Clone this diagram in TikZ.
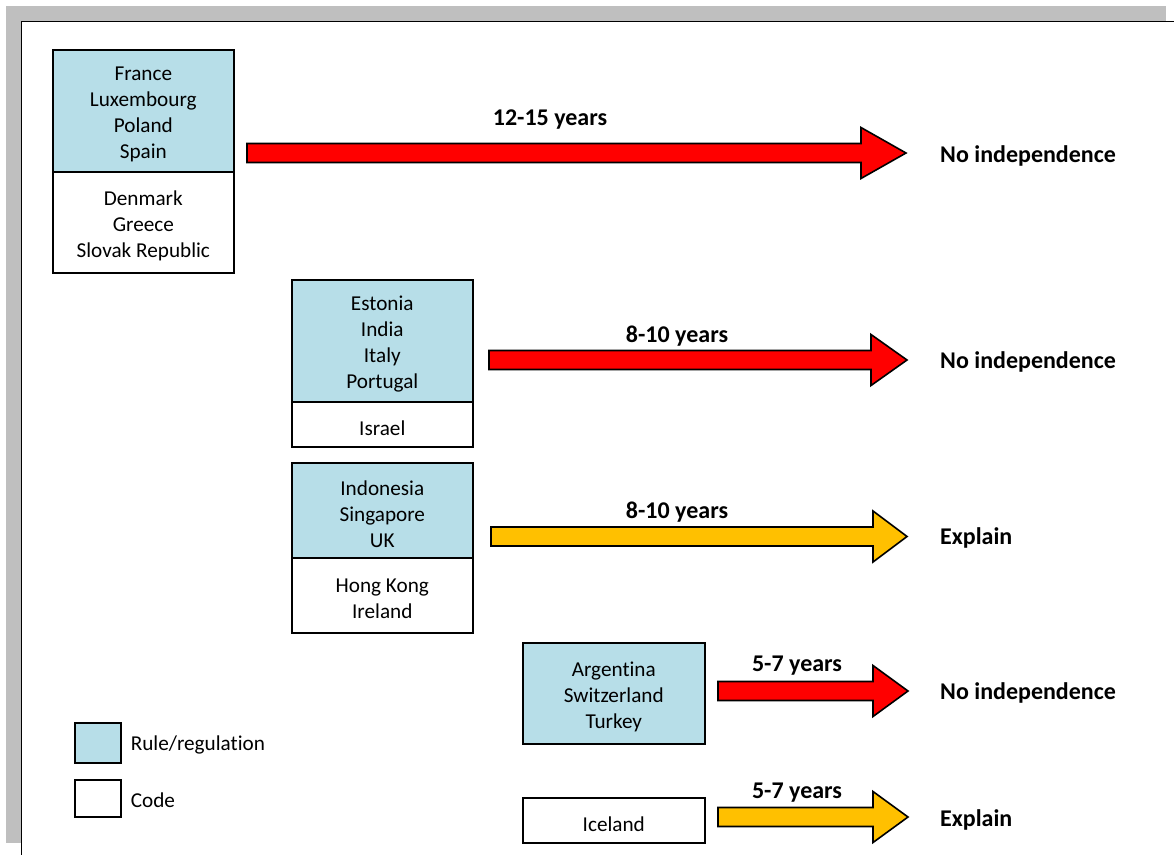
\documentclass[tikz,border=0pt]{standalone}
\usepackage{fontspec}
\setmainfont{Carlito}[Ligatures=NoCommon]
\definecolor{ruleblue}{HTML}{B7DEE8}
\definecolor{arrred}{HTML}{FF0000}
\definecolor{arrorange}{HTML}{FFC000}
\definecolor{framegrey}{HTML}{BFBFBF}
\newcommand{\blockarrow}[5]{%
  \filldraw[barrow, fill=#5] (#1,#4-9.5) -- (#2,#4-9.5) -- (#2,#4-25.5) -- (#3,#4)
    -- (#2,#4+25.5) -- (#2,#4+9.5) -- (#1,#4+9.5) -- cycle;}
\begin{document}
\begin{tikzpicture}[x=1pt,y=-1pt,
  every node/.style={font=\fontsize{21.2}{26}\selectfont, inner sep=0pt, text=black},
  boxbase/.style={draw=black, line width=1.6pt, anchor=north west},
  regbox/.style={boxbase, fill=ruleblue},
  codebox/.style={boxbase, fill=white},
  boxtext/.style={align=center, yshift=-3.5pt},
  lab/.style={font=\bfseries\fontsize{24}{28}\selectfont},
  outc/.style={lab, anchor=west},
  barrow/.style={draw=black, line width=1.6pt, line join=miter}
]
\useasboundingbox (0,0) rectangle (1174,854);
\clip (0,0) rectangle (1174,854);
% page frame
\fill[framegrey] (6,6) rectangle (1166,843);
\filldraw[fill=white, draw=black, line width=1.8pt] (21.5,21.5) rectangle (1195,875);

% group 1
\node[regbox, minimum width=181pt, minimum height=122pt] (g1r) at (52,49) {};
\node[boxtext] (g1rt) at (g1r.center) {France\\Luxembourg\\Poland\\Spain};
\node[codebox, minimum width=181pt, minimum height=101pt] (g1c) at (52,171) {};
\node[boxtext] (g1ct) at (g1c.center) {Denmark\\Greece\\Slovak Republic};
% group 2
\node[regbox, minimum width=181pt, minimum height=122pt] (g2r) at (291,279) {};
\node[boxtext] (g2rt) at (g2r.center) {Estonia\\India\\Italy\\Portugal};
\node[codebox, minimum width=181pt, minimum height=45pt] (g2c) at (291,401) {};
\node[boxtext] (g2ct) at (g2c.center) {Israel};
% group 3
\node[regbox, minimum width=181pt, minimum height=95pt] (g3r) at (291,462) {};
\node[boxtext] (g3rt) at (g3r.center) {Indonesia\\Singapore\\UK};
\node[codebox, minimum width=181pt, minimum height=75pt] (g3c) at (291,557) {};
\node[boxtext] (g3ct) at (g3c.center) {Hong Kong\\Ireland};
% group 4
\node[regbox, minimum width=182pt, minimum height=101pt] (g4r) at (522,642) {};
\node[boxtext] (g4rt) at (g4r.center) {Argentina\\Switzerland\\Turkey};
% group 5
\node[codebox, minimum width=182pt, minimum height=45pt] (g5c) at (522,797) {};
\node[boxtext] (g5ct) at (g5c.center) {Iceland};

% arrows
\blockarrow{247}{861}{906}{153}{arrred}
\blockarrow{489}{871}{907}{360}{arrred}
\blockarrow{491}{873}{907}{536.5}{arrorange}
\blockarrow{718}{873}{908}{691}{arrred}
\blockarrow{718}{873}{908}{817}{arrorange}

% arrow labels
\node[lab] (t1) at (550,120) {12-15 years};
\node[lab] (t2) at (677,336) {8-10 years};
\node[lab] (t3) at (677,512) {8-10 years};
\node[lab] (t4) at (797,666) {5-7 years};
\node[lab] (t5) at (797,793) {5-7 years};

% outcomes
\node[outc] (o1) at (940,156) {No independence};
\node[outc] (o2) at (940,362) {No independence};
\node[outc] (o3) at (940,538) {Explain};
\node[outc] (o4) at (940,693) {No independence};
\node[outc] (o5) at (940,820) {Explain};

% legend
\node[regbox, minimum width=46pt, minimum height=40pt] (lr) at (74,722) {};
\node[codebox, minimum width=46pt, minimum height=37pt] (lc) at (74,779) {};
\node[anchor=west, xshift=9pt, yshift=-2pt] (lrt) at (lr.east) {Rule/regulation};
\node[anchor=west, xshift=9pt, yshift=-2pt] (lct) at (lc.east) {Code};
\end{tikzpicture}
\end{document}
